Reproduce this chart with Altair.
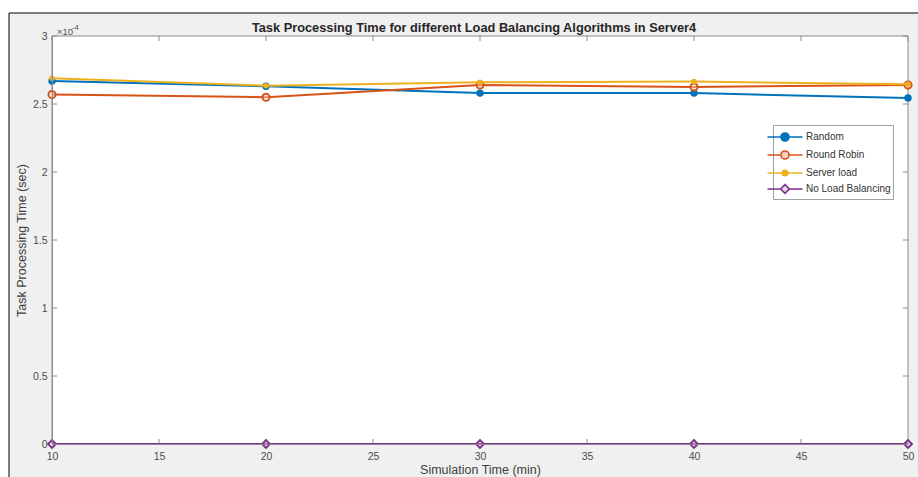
import altair as alt
import pandas as pd

# Simulation time (min) and task processing time (sec) per algorithm
sim_time = [10, 20, 30, 40, 50]
random_t = [2.67e-4, 2.63e-4, 2.58e-4, 2.58e-4, 2.545e-4]
round_robin_t = [2.57e-4, 2.55e-4, 2.64e-4, 2.625e-4, 2.64e-4]
server_load_t = [2.69e-4, 2.635e-4, 2.66e-4, 2.665e-4, 2.645e-4]
no_lb_t = [0.0, 0.0, 0.0, 0.0, 0.0]

series_names = ["Random", "Round Robin", "Server load", "No Load Balancing"]
series_values = [random_t, round_robin_t, server_load_t, no_lb_t]
series_colors = ["#0072BD", "#D95319", "#EDB120", "#7E2F8E"]

x_ticks = [10, 15, 20, 25, 30, 35, 40, 45, 50]
y_ticks = [0, 0.5e-4, 1e-4, 1.5e-4, 2e-4, 2.5e-4, 3e-4]

chart_title = "Task Processing Time for different Load Balancing Algorithms in Server4"

W, H = 856, 408
FONT = "Liberation Sans"

rows = []
for name, vals in zip(series_names, series_values):
    for t, v in zip(sim_time, vals):
        rows.append({"series": name, "time": t, "value": v})
df = pd.DataFrame(rows)

x_scale = alt.Scale(domain=[10, 50], nice=False, zero=False)
y_scale = alt.Scale(domain=[0, 3e-4], nice=False)
x_axis = alt.Axis(values=x_ticks, ticks=False, grid=False, domainColor="#8c8c8c",
                  labelColor="#4d4d4d", labelFont=FONT, labelFontSize=10.5, labelPadding=7,
                  labelFlush=False, titleFont=FONT, titleFontSize=12.5, titleFontWeight="normal",
                  titleColor="#404040", titlePadding=2, zindex=1)
y_axis = alt.Axis(values=y_ticks, ticks=False, grid=False, domainColor="#8c8c8c",
                  labelColor="#4d4d4d", labelFont=FONT, labelFontSize=10.5, labelPadding=5,
                  labelExpr="toString(round(datum.value * 1e5) / 10)",
                  titleFont=FONT, titleFontSize=12.5, titleFontWeight="normal",
                  titleColor="#404040", titlePadding=4, zindex=1)

X = alt.X("time:Q", scale=x_scale, axis=x_axis, title="Simulation Time (min)")
Y = alt.Y("value:Q", scale=y_scale, axis=y_axis, title="Task Processing Time (sec)")

one = pd.DataFrame({"k": [0]})

# Grey figure background with its black frame, and the white axes area
figure_bg = alt.Chart(one).mark_rect(fill="#f0f0f0", stroke="black", strokeWidth=1).encode(
    x=alt.value(-43), x2=alt.value(920), y=alt.value(-23), y2=alt.value(470))
axes_bg = alt.Chart(one).mark_rect(fill="white", stroke="#8c8c8c", strokeWidth=1).encode(
    x=alt.value(0), x2=alt.value(W), y=alt.value(0), y2=alt.value(H))

# Inward-pointing tick marks on all four sides
xt = pd.DataFrame({"time": x_ticks})
yt = pd.DataFrame({"value": y_ticks})
tick_style = dict(color="#8c8c8c", strokeWidth=1)
x_ticks_bottom = alt.Chart(xt).mark_rule(**tick_style).encode(x=X, y=alt.value(H), y2=alt.value(H - 5))
x_ticks_top = alt.Chart(xt).mark_rule(**tick_style).encode(x=X, y=alt.value(0), y2=alt.value(5))
y_ticks_left = alt.Chart(yt).mark_rule(**tick_style).encode(y=Y, x=alt.value(0), x2=alt.value(5))
y_ticks_right = alt.Chart(yt).mark_rule(**tick_style).encode(y=Y, x=alt.value(W), x2=alt.value(W - 5))

# Series lines and markers, drawn in plotting order
marker_specs = {
    "Random": dict(shape="circle", size=55, filled=True),
    "Round Robin": dict(shape="circle", size=50, filled=False),
    "Server load": dict(shape="circle", size=30, filled=True),
    "No Load Balancing": dict(shape="diamond", size=60, filled=False),
}
series_layers = []
for name, color in zip(series_names, series_colors):
    sub = alt.Chart(df).transform_filter(alt.datum.series == name)
    series_layers.append(sub.mark_line(color=color, strokeWidth=2).encode(x=X, y=Y))
    m = marker_specs[name]
    if m["filled"]:
        pt = sub.mark_point(shape=m["shape"], size=m["size"], filled=True, color=color, opacity=1)
    else:
        pt = sub.mark_point(shape=m["shape"], size=m["size"], filled=False, color=color,
                            fill="white", fillOpacity=0.35, strokeWidth=2, opacity=1)
    series_layers.append(pt.encode(x=X, y=Y))

# Legend: line-with-marker glyphs for each series (paths span twice the unit box)
circle = "M-2,0H-0.46M0.46,0H2M0.46,0A0.46,0.46 0 1,1 -0.46,0A0.46,0.46 0 1,1 0.46,0Z"
small_circle = "M-2,0H-0.32M0.32,0H2M0.32,0A0.32,0.32 0 1,1 -0.32,0A0.32,0.32 0 1,1 0.32,0Z"
diamond = "M-2,0H-0.5M0.5,0H2M0,-0.5L0.5,0L0,0.5L-0.5,0Z"
legend_shapes = [circle, circle, small_circle, diamond]
legend_fills = ["#0072BD", "#f5d0c0", "#EDB120", "#e6d6ea"]

legend_layer = alt.Chart(df).transform_filter("datum.time < 0").mark_point(
    filled=False, strokeWidth=1.6, opacity=1).encode(
    x=X, y=Y,
    color=alt.Color("series:N", scale=alt.Scale(domain=series_names, range=series_colors),
                    legend=alt.Legend(title=None, orient="none", legendX=721, legendY=89,
                                      direction="vertical", fillColor="white",
                                      strokeColor="#a0a0a0", padding=2, rowPadding=0,
                                      symbolSize=306, symbolStrokeWidth=1.6,
                                      labelFont=FONT, labelFontSize=10, labelColor="#333333",
                                      labelOffset=11)),
    shape=alt.Shape("series:N", scale=alt.Scale(domain=series_names, range=legend_shapes),
                    legend=alt.Legend(title=None)),
    fill=alt.Fill("series:N", scale=alt.Scale(domain=series_names, range=legend_fills),
                  legend=alt.Legend(title=None)),
)

# Chart title and the axis exponent label, placed above the axes box
title_text = alt.Chart(one).mark_text(text=chart_title, font=FONT, fontSize=12.8, fontWeight="bold",
                                       color="#262626", align="center", baseline="middle").encode(
    x=alt.value(W / 2 - 6), y=alt.value(-8))
exp_base = alt.Chart(one).mark_text(text="\u00d710", font=FONT, fontSize=9.5, color="#4d4d4d",
                                     align="left", baseline="middle").encode(
    x=alt.value(5), y=alt.value(-4))
exp_pow = alt.Chart(one).mark_text(text="-4", font=FONT, fontSize=7.5, color="#4d4d4d",
                                    align="left", baseline="middle").encode(
    x=alt.value(20), y=alt.value(-8))

chart = alt.layer(
    figure_bg, axes_bg, x_ticks_bottom, x_ticks_top, y_ticks_left, y_ticks_right,
    *series_layers, legend_layer, title_text, exp_base, exp_pow,
).properties(
    width=W, height=H,
    autosize=alt.AutoSizeParams(type="none"),
    padding={"left": 52, "top": 36, "right": 10, "bottom": 33},
).configure_view(stroke=None).configure(background="white")

chart.save("out.html", embed_options={"renderer": "svg", "actions": False})
